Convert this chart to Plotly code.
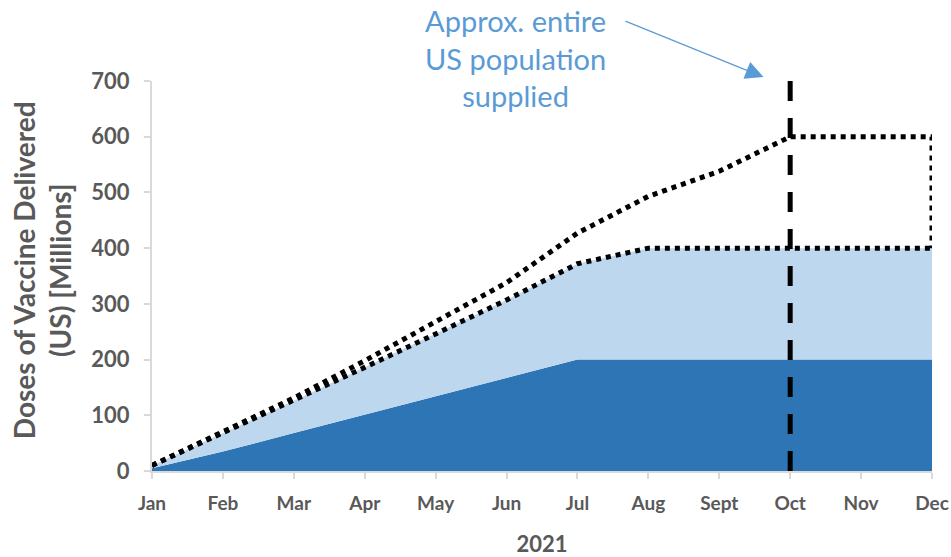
import plotly.graph_objects as go

months = ['Jan', 'Feb', 'Mar', 'Apr', 'May', 'Jun', 'Jul', 'Aug', 'Sept', 'Oct', 'Nov', 'Dec']
# first dose supply (dark) and total supply (light blue top), millions
dark_doses = [5, 35, 68, 101, 134, 167, 200, 200, 200, 200, 200, 200]
total_doses = [10, 68, 126, 186, 246, 307, 372, 400, 400, 400, 400, 400]
# upper projection, closes back down at Dec
upper_x = months + ['Dec']
upper_doses = [10, 70, 131, 198, 267, 338, 427, 493, 538, 600, 600, 600, 400]

grey = '#595959'
font_family = 'Lato, Open Sans, sans-serif'

fig = go.Figure()
fig.add_trace(go.Scatter(
    x=months, y=dark_doses, mode='lines', fill='tozeroy',
    line=dict(color='#2E75B6', width=0), fillcolor='#2E75B6', showlegend=False
))
fig.add_trace(go.Scatter(
    x=months, y=total_doses, mode='lines', fill='tonexty',
    line=dict(color='#BDD7EE', width=0), fillcolor='#BDD7EE', showlegend=False
))
fig.add_trace(go.Scatter(
    x=months, y=total_doses, mode='lines',
    line=dict(color='black', width=5, dash='5px,5px'), cliponaxis=False, showlegend=False
))
fig.add_trace(go.Scatter(
    x=upper_x, y=upper_doses, mode='lines',
    line=dict(color='black', width=5, dash='5px,5px'), cliponaxis=False, showlegend=False
))

# vertical marker at Oct
fig.add_shape(type='line', x0='Oct', x1='Oct', xref='x', yref='y domain', y0=0, y1=1.01,
              line=dict(color='black', width=5, dash='20px,17px'))

fig.add_annotation(
    text='Approx. entire<br>US population<br>supplied', xref='paper', yref='paper',
    x=0.466, y=1.205, xanchor='center', yanchor='top', showarrow=False,
    font=dict(family=font_family, size=29, color='#5B9BD5')
)
fig.add_annotation(
    text='', xref='x domain', yref='y domain', axref='x domain', ayref='y domain',
    x=0.784, y=1.01, ax=0.605, ay=1.155, showarrow=True,
    arrowhead=2, arrowsize=3, arrowwidth=1.2, arrowcolor='#5B9BD5'
)
# y title as a rotated annotation so it sits where the reference has it
fig.add_annotation(
    text='<b>Doses of Vaccine Delivered<br>(US) [Millions]</b>', xref='paper', yref='paper',
    x=-0.141, y=0.515, xanchor='center', yanchor='middle', textangle=-90, showarrow=False,
    font=dict(family=font_family, size=28, color=grey)
)

fig.update_layout(
    width=951, height=557,
    margin=dict(l=152, r=19, t=81, b=86),
    plot_bgcolor='white', paper_bgcolor='white',
    font=dict(family=font_family, color=grey),
)
fig.update_xaxes(
    type='category', categoryorder='array', categoryarray=months, range=[0, 11],
    automargin=False,
    showgrid=False, showline=True, linecolor='#D9D9D9', linewidth=2,
    ticks='outside', ticklen=6, tickcolor='#D9D9D9', tickwidth=2, ticklabelstandoff=8,
    tickfont=dict(size=19, color=grey, weight='bold'),
    title=dict(text='2021', font=dict(size=22, color=grey, weight='bold'), standoff=26)
)
fig.update_yaxes(
    range=[0, 700], dtick=100, showgrid=False, zeroline=False, automargin=False,
    showline=True, linecolor='#D9D9D9', linewidth=2,
    ticks='outside', ticklen=6, tickcolor='#D9D9D9', tickwidth=2, ticklabelstandoff=10,
    tickfont=dict(size=22, color=grey, weight='bold')
)

# drop the default 8px page margin so the figure fills the window
fig.write_html('out.html', config={'displayModeBar': False},
               post_script="document.body.style.margin='0';")
